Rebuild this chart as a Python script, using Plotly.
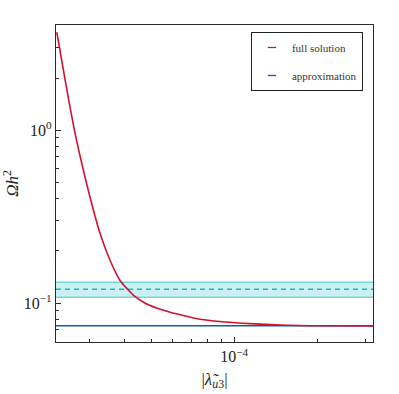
import plotly.graph_objects as go

# ---- data ----
x_lo, x_hi = 2.26e-5, 3.19e-4
full_x = [2.275e-5, 2.401e-5, 2.525e-5, 2.654e-5, 2.790e-5, 3.008e-5, 3.268e-5, 3.554e-5,
          3.864e-5, 4.095e-5, 4.378e-5, 4.760e-5, 5.260e-5, 5.862e-5, 6.373e-5, 7.530e-5,
          9.275e-5, 1.143e-4, 1.468e-4, 1.886e-4, 3.188e-4]
full_y = [3.678, 2.249, 1.431, 0.948, 0.6625, 0.4051, 0.2511, 0.1754,
          0.1345, 0.1209, 0.1087, 0.0997, 0.0933, 0.0885, 0.0856, 0.0806,
          0.0777, 0.0760, 0.0746, 0.0739, 0.0737]
approx_x = [x_lo, x_hi]
approx_y = [0.0739, 0.0739]
band_x = [x_lo, x_hi]
band_low = 0.108
band_high = 0.132
band_mid = 0.120

xmaj_vals = [1e-4]
xmaj_text = ["10<sup>\u22124</sup>"]
xmin_vals = [3e-5, 4e-5, 5e-5, 6e-5, 7e-5, 8e-5, 9e-5, 2e-4, 3e-4]
ymaj_vals = [0.1, 1.0]
ymaj_text = ["10<sup>\u22121</sup>", "10<sup>0</sup>"]
ymin_vals = [0.06, 0.07, 0.08, 0.09, 0.2, 0.3, 0.4, 0.5, 0.6, 0.7, 0.8, 0.9, 2, 3, 4]

RED = "#d3112e"
BLUE = "#0b5cb0"
CYAN_EDGE = "#3fc7c7"
CYAN_FILL = "rgba(150,225,228,0.5)"
CYAN_DASH = "#1fb8c0"
SERIF = "Liberation Serif"

fig = go.Figure()
fig.add_trace(go.Scatter(x=band_x, y=[band_low] * 2, mode="lines",
                         line=dict(color=CYAN_EDGE, width=1), showlegend=False, hoverinfo="skip"))
fig.add_trace(go.Scatter(x=band_x, y=[band_high] * 2, mode="lines", fill="tonexty",
                         fillcolor=CYAN_FILL,
                         line=dict(color=CYAN_EDGE, width=1), showlegend=False, hoverinfo="skip"))
fig.add_trace(go.Scatter(x=band_x, y=[band_mid] * 2, mode="lines",
                         line=dict(color=CYAN_DASH, width=1.4, dash="5px,4px"),
                         showlegend=False, hoverinfo="skip"))
fig.add_trace(go.Scatter(x=approx_x, y=approx_y, mode="lines",
                         line=dict(color=BLUE, width=1.6), showlegend=False))
fig.add_trace(go.Scatter(x=full_x, y=full_y, mode="lines", line_shape="spline",
                         line=dict(color=RED, width=1.6, smoothing=0.8), showlegend=False))

# legend entries (short line symbols)
fig.add_trace(go.Scatter(x=[None], y=[None], mode="markers", name="full solution",
                         legendgroup="a",
                         marker=dict(symbol="line-ew-open", size=6, color=RED,
                                     line=dict(color=RED, width=1.3))))
fig.add_trace(go.Scatter(x=[None], y=[None], mode="markers", name="approximation",
                         legendgroup="b",
                         marker=dict(symbol="line-ew-open", size=6, color=BLUE,
                                     line=dict(color=BLUE, width=1.3))))

axis_common = dict(showline=True, linecolor="#2a2a2a", linewidth=1.3, mirror=True,
                   showgrid=False, zeroline=False, ticks="inside", ticklen=5,
                   tickwidth=1, tickcolor="#2a2a2a", automargin=False,
                   tickfont=dict(family=SERIF, size=16, color="#222"))

fig.update_xaxes(type="log", range=[-4.6459, -3.4962], tickmode="array",
                 tickvals=xmaj_vals, ticktext=xmaj_text,
                 minor=dict(tickmode="array", tickvals=xmin_vals, ticks="inside",
                            ticklen=3, tickwidth=1, tickcolor="#2a2a2a", showgrid=False),
                 title=dict(text="|<i>\u03bb\u0303</i><sub><i>u</i>3</sub>|",
                            font=dict(family=SERIF, size=17, color="#222"), standoff=8),
                 **axis_common)
fig.update_yaxes(type="log", range=[-1.2255, 0.6075], tickmode="array",
                 tickvals=ymaj_vals, ticktext=ymaj_text,
                 minor=dict(tickmode="array", tickvals=ymin_vals, ticks="inside",
                            ticklen=3, tickwidth=1, tickcolor="#2a2a2a", showgrid=False),
                 title=dict(text="<i>\u03a9h</i><sup>2</sup>",
                            font=dict(family=SERIF, size=17, color="#222"), standoff=18),
                 **axis_common)

fig.update_layout(
    width=399, height=394,
    margin=dict(l=56, r=26, t=25, b=52),
    plot_bgcolor="white", paper_bgcolor="white",
    legend=dict(x=0.615, y=0.978, xanchor="left", yanchor="top",
                bgcolor="white", bordercolor="#222", borderwidth=1,
                font=dict(family=SERIF, size=11, color="#333"),
                tracegroupgap=9, itemwidth=30, traceorder="grouped"),
)

fig.write_html("out.html", config={"displayModeBar": False},
               post_script="document.body.style.margin='0px';")
